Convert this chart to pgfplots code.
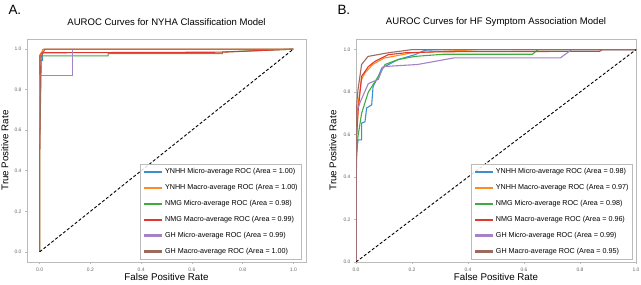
\documentclass[border=0pt]{standalone}
\usepackage{fontspec}
\setmainfont{Liberation Sans}
\usepackage{pgfplots}
\pgfplotsset{compat=1.18}
\definecolor{tabblue}{HTML}{3A8FD0}
\definecolor{taborange}{HTML}{FF8A22}
\definecolor{tabgreen}{HTML}{3DAE3D}
\definecolor{tabred}{HTML}{E0382E}
\definecolor{tabpurple}{HTML}{A582C8}
\definecolor{tabbrown}{HTML}{9C6A5E}
\definecolor{framegray}{HTML}{BBBBBB}
\pgfplotsset{
  rocax/.style={
    anchor=south west, scale only axis, height=223bp,
    axis line style={framegray, line width=0.9bp},
    tick style={framegray, line width=0.6bp},
    major tick length=2bp, tick align=outside,
    xtick={0,0.2,0.4,0.6,0.8,1.0}, ytick={0,0.2,0.4,0.6,0.8,1.0},
    xticklabels={0.0,0.2,0.4,0.6,0.8,1.0}, yticklabels={0.0,0.2,0.4,0.6,0.8,1.0},
    xtick pos=bottom, ytick pos=left,
    /pgf/number format/assume math mode=true,
    tick label style={font=\fontsize{5}{6}\selectfont, text=black!60},
    xticklabel style={yshift=-0.5bp},
    title style={font=\fontsize{9.6}{11}\selectfont, at={(0.5,1)}, anchor=center, yshift=11bp},
    every axis x label/.style={at={(0.5,0)}, anchor=center, yshift=-15bp, font=\fontsize{9.8}{11}\selectfont},
    every axis y label/.style={at={(0,0.5)}, anchor=center, rotate=90, font=\fontsize{9.8}{11}\selectfont},
    xlabel={False Positive Rate}, ylabel={True Positive Rate},
    legend cell align=left,
    legend image code/.code={\draw[#1, line width=2.3bp] (0bp,0bp) -- (18bp,0bp);},
    legend style={font=\fontsize{7.2}{8}\selectfont, draw=framegray, line width=0.9bp,
      fill=white, fill opacity=0.85, text opacity=1, row sep=5.2bp,
      inner xsep=2bp, inner ysep=2.5bp, anchor=south east},
    every axis plot/.append style={line width=1.1bp},
  }
}
\begin{document}
\begin{tikzpicture}
\useasboundingbox (0bp,0bp) rectangle (641bp,285bp);
\node[font=\fontsize{13.5}{15}\selectfont, anchor=west] at (5bp,275bp) {A.};
\node[font=\fontsize{13.5}{15}\selectfont, anchor=west] at (334bp,275bp) {B.};
% ---------------- Panel A
\begin{axis}[rocax, at={(27bp,23bp)}, width=279bp,
  xmin=-0.05, xmax=1.05, ymin=-0.05, ymax=1.05,
  title={AUROC Curves for NYHA Classification Model},
  ylabel style={yshift=22bp},
  legend style={at={(0.986,0.01)}}]
\addplot[tabblue] coordinates {(0,0) (0,0.946) (0.01,0.946) (0.01,1.0) (1,1)};
\addlegendentry{YNHH Micro-average ROC (Area = 1.00)}
\addplot[taborange] coordinates {(0,0) (0,0.97) (0.015,1.0) (1,1)};
\addlegendentry{YNHH Macro-average ROC (Area = 1.00)}
\addplot[tabgreen] coordinates {(0,0) (0,0.967) (0.27,0.967) (0.27,0.978) (0.72,0.978) (0.72,0.986) (1,1)};
\addlegendentry{NMG Micro-average ROC (Area = 0.98)}
\addplot[tabred] coordinates {(0,0) (0,0.5) (0.005,0.975) (0.01,0.982) (0.72,0.985) (1,1)};
\addlegendentry{NMG Macro-average ROC (Area = 0.99)}
\addplot[tabpurple] coordinates {(0,0) (0,0.872) (0.13,0.872) (0.13,1.0) (1,1)};
\addlegendentry{GH Micro-average ROC (Area = 0.99)}
\addplot[tabbrown] coordinates {(0,0) (0,0.5) (0.006,0.96) (0.02,1.0) (1,1)};
\addlegendentry{GH Macro-average ROC (Area = 1.00)}
\addplot[black, line width=0.9bp, dash pattern=on 3bp off 2bp, forget plot] coordinates {(0,0) (1,1)};
\end{axis}
% ---------------- Panel B
\begin{axis}[rocax, at={(356bp,23bp)}, width=280bp,
  xmin=0, xmax=1, ymin=0, ymax=1.05,
  title={AUROC Curves for HF Symptom Association Model},
  ylabel style={yshift=23bp},
  legend style={at={(0.989,0.01)}}]
\addplot[tabblue] coordinates {(0,0) (0,0.5) (0.007,0.575) (0.02,0.575) (0.02,0.654) (0.032,0.66) (0.038,0.725) (0.056,0.74) (0.061,0.827) (0.08,0.874) (0.092,0.913) (0.15,0.953) (0.21,0.976) (0.246,0.997) (0.3,1.0) (1,1)};
\addlegendentry{YNHH Micro-average ROC (Area = 0.98)}
\addplot[taborange] coordinates {(0,0) (0,0.27) (0.003,0.6) (0.008,0.75) (0.02,0.86) (0.032,0.89) (0.06,0.93) (0.1,0.96) (0.2,0.985) (0.44,1.0) (1,1)};
\addlegendentry{YNHH Macro-average ROC (Area = 0.97)}
\addplot[tabgreen] coordinates {(0,0) (0,0.45) (0.007,0.59) (0.02,0.70) (0.044,0.80) (0.08,0.874) (0.104,0.93) (0.15,0.953) (0.21,0.968) (0.31,0.978) (0.63,0.978) (0.65,1.0) (1,1)};
\addlegendentry{NMG Micro-average ROC (Area = 0.98)}
\addplot[tabred] coordinates {(0,0) (0,0.55) (0.008,0.717) (0.02,0.874) (0.044,0.92) (0.068,0.945) (0.115,0.976) (0.175,0.985) (0.3,0.99) (0.87,0.992) (0.88,1.0) (1,1)};
\addlegendentry{NMG Macro-average ROC (Area = 0.96)}
\addplot[tabpurple] coordinates {(0,0) (0,0.6) (0.005,0.717) (0.014,0.75) (0.044,0.84) (0.08,0.86) (0.097,0.92) (0.22,0.93) (0.35,0.961) (0.73,0.961) (0.77,1.0) (1,1)};
\addlegendentry{GH Micro-average ROC (Area = 0.99)}
\addplot[tabbrown] coordinates {(0,0) (0,0.6) (0.003,0.75) (0.007,0.81) (0.02,0.93) (0.043,0.968) (0.115,0.985) (0.2,1.0) (1,1)};
\addlegendentry{GH Macro-average ROC (Area = 0.95)}
\addplot[black, line width=0.9bp, dash pattern=on 3bp off 2bp, forget plot] coordinates {(0,0) (1,1)};
\end{axis}
\end{tikzpicture}
\end{document}
